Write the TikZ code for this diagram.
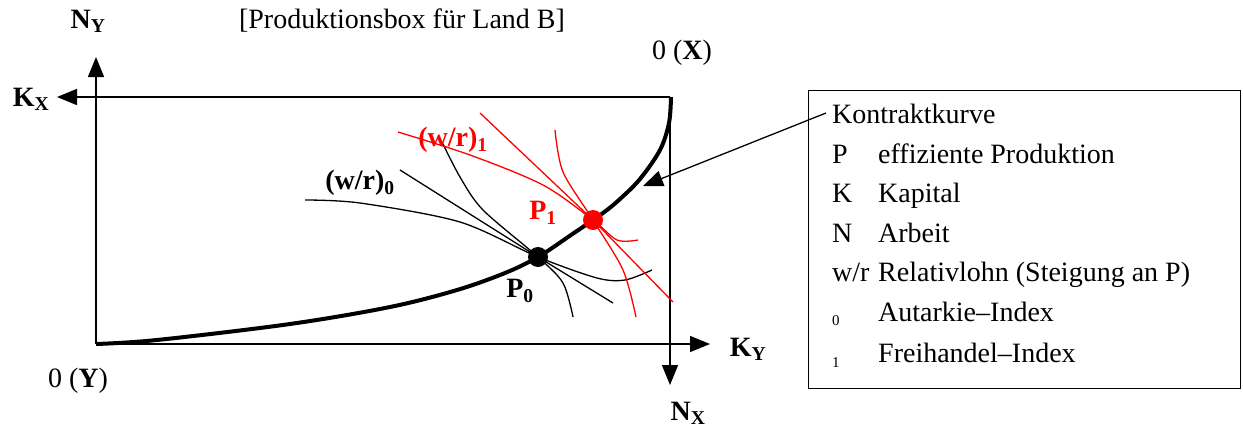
\documentclass[tikz,border=0pt]{standalone}
\usepackage{fontspec}
\setmainfont{Liberation Serif}
\usetikzlibrary{arrows.meta}
\begin{document}
\begin{tikzpicture}[x=1pt,y=-1pt,
  every node/.style={font=\fontsize{28}{33}\selectfont, inner sep=0pt},
  axis/.style={line width=1.5pt, -{Triangle[length=20pt,width=16pt]}},
  contract/.style={line width=4pt},
  iso/.style={line width=1.3pt},
  isored/.style={line width=1.3pt, red},
  pt/.style={circle, minimum size=20pt, inner sep=0pt},
  leg/.style={anchor=base west},
  legsub/.style={anchor=base west, font=\fontsize{15}{17}\selectfont}]
\useasboundingbox (0,0) rectangle (1243,429);
% corners
\coordinate (O) at (96,344);
\coordinate (TR) at (670,97);
\coordinate (NYtip) at (96,57);
\coordinate (KXtip) at (57,97);
\coordinate (KYtip) at (710,344);
\coordinate (NXtip) at (670,385);
% axes
\draw[axis] (O) -- (NYtip);
\draw[axis] (TR) -- (KXtip);
\draw[axis] (O) -- (KYtip);
\draw[axis] (TR) -- (NXtip);
% axis labels
\node (NY) at (88,21) {\textbf{N\textsubscript{Y}}};
\node (KX) at (31,99) {\textbf{K\textsubscript{X}}};
\node (KY) at (748,349) {\textbf{K\textsubscript{Y}}};
\node (NX) at (688,413) {\textbf{N\textsubscript{X}}};
\node (OY) at (78,381) {0 (\textbf{Y})};
\node (OX) at (682,53) {0 (\textbf{X})};
\node (title) at (402,21) {[Produktionsbox für Land B]};
% black isoquants
\draw[iso] plot[smooth] coordinates {(305,200) (360,203) (460,222) (538,257) (597,278) (625,280) (652,270)};
\draw[iso] (400,170) -- (538,257) -- (613,303);
\draw[iso] plot[smooth] coordinates {(442,142) (460,177) (483,210) (538,257) (563,283) (573,317)};
% red isoquants
\draw[isored] plot[smooth] coordinates {(398,132) (470,155) (543,185) (593,220) (617,240) (638,240)};
\draw[isored] (480,113) -- (593,220) -- (673,302);
\draw[isored] plot[smooth] coordinates {(555,130) (563,172) (593,220) (623,270) (636,317)};
% contract curve
\coordinate (C1) at (643,186);
\draw[contract] plot[smooth, tension=0.55] coordinates {(96,344) (157,340) (290,324) (390,307) (457,290) (505,273) (538,257) (571,235) (603,213) (620,199) (640,179) (660,150) (669,123) (671,97)};
% points
\node[pt, fill=black] (P0) at (538,257) {};
\node[pt, fill=red] (P1) at (593,220) {};
\node (P0l) at (520,291) {\textbf{P\textsubscript{0}}};
\node[red] (P1l) at (543,213) {\textbf{P\textsubscript{1}}};
\node (wr0) at (360,183) {\textbf{(w/r)\textsubscript{0}}};
\node[red] (wr1) at (453,140) {\textbf{(w/r)\textsubscript{1}}};
% legend
\node[draw, line width=1.3pt, minimum width=432pt, minimum height=298pt, anchor=north west] (leg) at (808,90) {};
\coordinate (Lstart) at (826,113);
\draw[line width=1.3pt, -{Triangle[length=20pt,width=16pt]}] (Lstart) -- (C1);
\node[leg] (l1) at (832,123) {Kontraktkurve};
\node[leg] (l2a) at (832,163) {P};
\node[leg] (l2b) at (878,163) {effiziente Produktion};
\node[leg] (l3a) at (832,202) {K};
\node[leg] (l3b) at (878,202) {Kapital};
\node[leg] (l4a) at (832,242) {N};
\node[leg] (l4b) at (878,242) {Arbeit};
\node[leg] (l5a) at (832,281) {w/r};
\node[leg] (l5b) at (878,281) {Relativlohn (Steigung an P)};
\node[legsub] (l6a) at (832,325) {0};
\node[leg] (l6b) at (878,321) {Autarkie–Index};
\node[legsub] (l7a) at (832,367) {1};
\node[leg] (l7b) at (878,362) {Freihandel–Index};
\end{tikzpicture}
\end{document}
